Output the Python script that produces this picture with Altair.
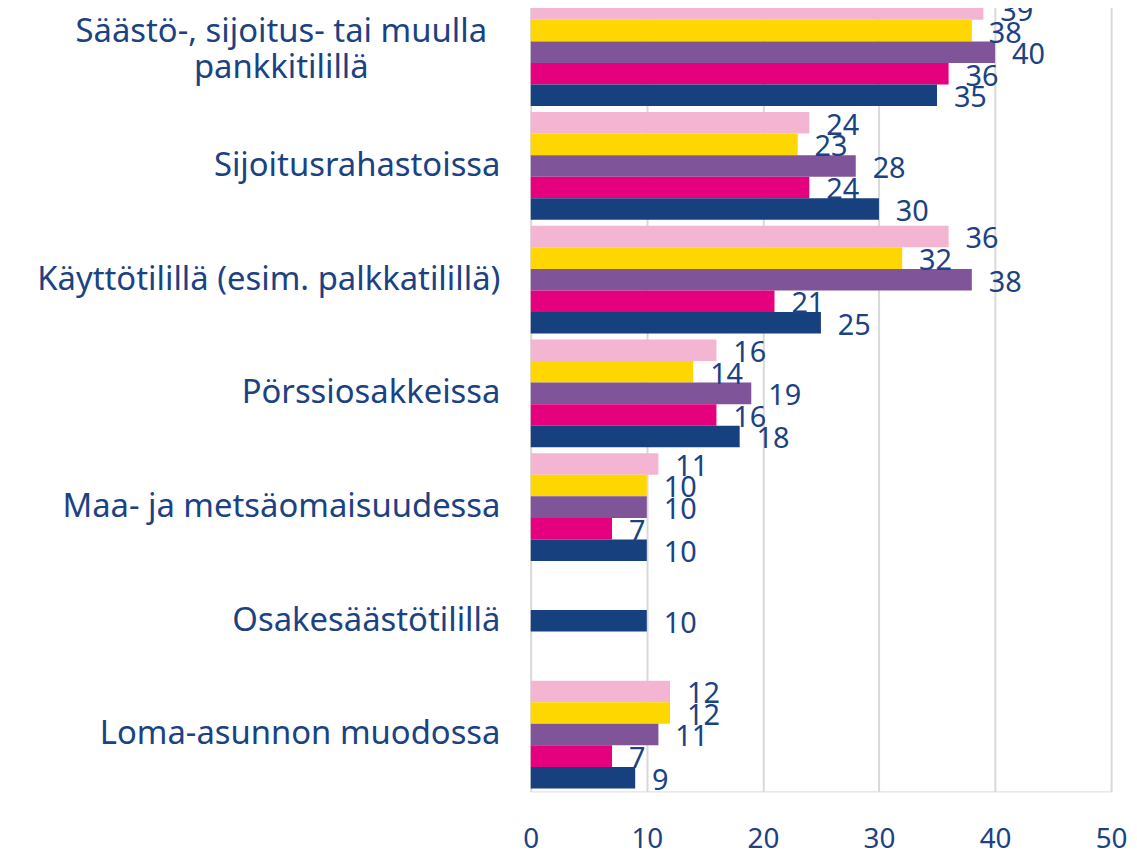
import altair as alt
import pandas as pd

categories = [
    "Säästö-, sijoitus- tai muulla pankkitilillä",
    "Sijoitusrahastoissa",
    "Käyttötilillä (esim. palkkatilillä)",
    "Pörssiosakkeissa",
    "Maa- ja metsäomaisuudessa",
    "Osakesäästötilillä",
    "Loma-asunnon muodossa",
]
first_label_line1 = "Säästö-, sijoitus- tai muulla"
first_label_line2 = "pankkitilillä"
series = ["Sarja 1", "Sarja 2", "Sarja 3", "Sarja 4", "Sarja 5"]
s1 = [39, 24, 36, 16, 11, None, 12]
s2 = [38, 23, 32, 14, 10, None, 12]
s3 = [40, 28, 38, 19, 10, None, 11]
s4 = [36, 24, 21, 16, 7, None, 7]
s5 = [35, 30, 25, 18, 10, 10, 9]
colors = ["#F4B5D3", "#FFD700", "#7F5499", "#E5007E", "#17417E"]
x_ticks = [0, 10, 20, 30, 40, 50]

TXT = "#1B4282"
FONT = "Noto Sans"

rows = []
for name, vals in zip(series, [s1, s2, s3, s4, s5]):
    for cat, v in zip(categories, vals):
        if v is not None:
            rows.append({"category": cat, "series": name, "value": v})
df = pd.DataFrame(rows)
# categories where only one series has a value are drawn centred in the band
counts = df.groupby("category")["value"].transform("count")
df_full = df[counts > 1]
df_single = df[counts == 1]
df_lab1 = pd.DataFrame({"category": [categories[0]], "label": [first_label_line1]})
df_lab2 = pd.DataFrame({"category": [categories[0]], "label": [first_label_line2]})

H = 801
BAR = H / 7.0 * (1 - 0.0524) / 5

y_enc = alt.Y(
    "category:N",
    sort=categories,
    scale=alt.Scale(domain=categories, paddingInner=0.0524, paddingOuter=0.026),
    axis=alt.Axis(
        title=None, domain=False, ticks=False, grid=False,
        labelFontSize=33, labelColor=TXT, labelFont=FONT, labelPadding=31,
        labelLimit=600,
        labelExpr="datum.index == 0 ? '' : datum.label",
    ),
)
x_enc = alt.X(
    "value:Q",
    scale=alt.Scale(domain=[0, 50], nice=False),
    axis=alt.Axis(
        title=None, values=x_ticks, domain=False, ticks=False,
        grid=True, gridColor="#D9D9D9", gridWidth=2, labelFlush=False,
        labelFontSize=28, labelColor=TXT, labelFont=FONT, labelPadding=34,
    ),
)
yoff = alt.YOffset("series:N", sort=series, scale=alt.Scale(paddingInner=0, paddingOuter=0))
color_enc = alt.Color("series:N", scale=alt.Scale(domain=series, range=colors), legend=None)

bars = alt.Chart(df_full).mark_bar().encode(y=y_enc, x=x_enc, yOffset=yoff, color=color_enc)
bars_single = alt.Chart(df_single).mark_bar(size=BAR).encode(y=y_enc, x=x_enc, color=color_enc)

text_style = dict(align="left", baseline="middle", dx=17, dy=3, fontSize=29, font=FONT, color=TXT)
labels = alt.Chart(df_full).mark_text(**text_style).encode(
    y=y_enc, x=x_enc, yOffset=yoff, text=alt.Text("value:Q")
)
labels_single = alt.Chart(df_single).mark_text(**text_style).encode(
    y=y_enc, x=x_enc, text=alt.Text("value:Q")
)
cat_style = dict(align="center", baseline="middle", fontSize=33, font=FONT, color=TXT)
first_cat1 = alt.Chart(df_lab1).mark_text(dy=-20, **cat_style).encode(
    y=y_enc, x=alt.value(-251), text="label:N"
)
first_cat2 = alt.Chart(df_lab2).mark_text(dy=16, **cat_style).encode(
    y=y_enc, x=alt.value(-251), text="label:N"
)

chart = (
    alt.layer(bars, bars_single, labels, labels_single, first_cat1, first_cat2)
    .properties(
        width=584,
        height=H,
        autosize=alt.AutoSizeParams(type="none"),
        padding={"left": 526, "top": -15.4, "right": 18, "bottom": 75},
    )
    .configure_view(strokeWidth=0)
    .configure(font=FONT)
)
chart.save("out.html", embed_options={"renderer": "svg", "actions": False})
